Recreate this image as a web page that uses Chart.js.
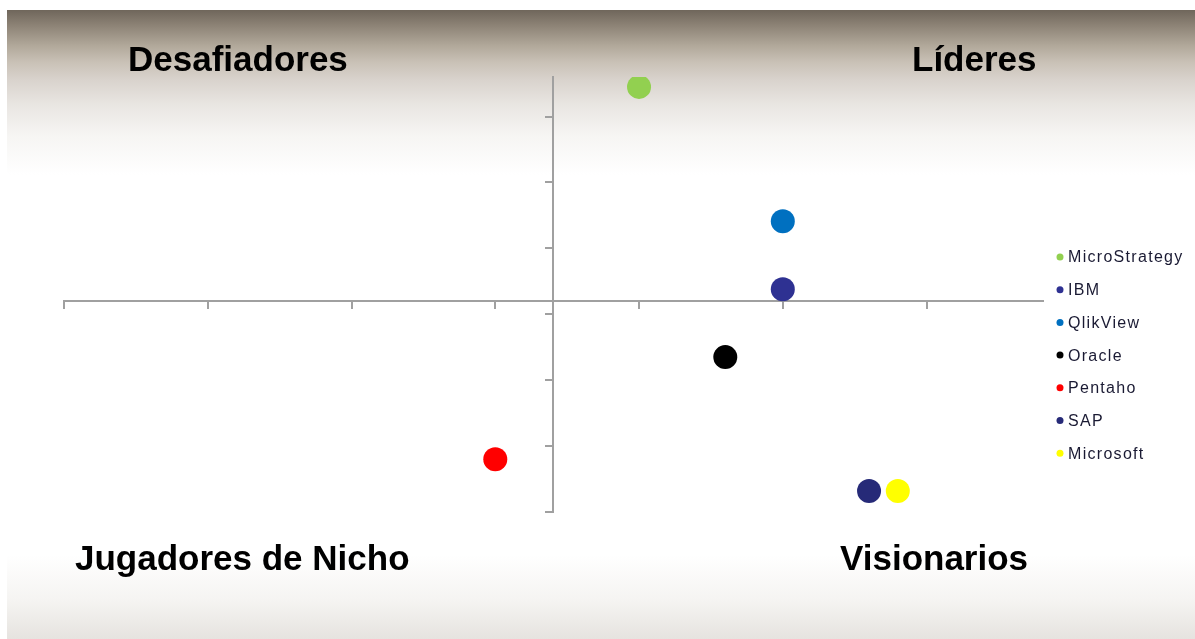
<!DOCTYPE html>
<html lang="es">
<head>
<meta charset="utf-8">
<title>Cuadrante BI</title>
<script src="https://cdn.jsdelivr.net/npm/chart.js@4.4.1/dist/chart.umd.min.js"></script>
<style>
    html, body { margin: 0; padding: 0; background: #fff; }
    #wrap { width: 1195px; height: 639px; position: relative; }
</style>
</head>
<body>
<div id="wrap"><canvas id="canvas"></canvas></div>
<script>
const companies = ["MicroStrategy", "IBM", "QlikView", "Oracle", "Pentaho", "SAP", "Microsoft"];
const visionValues = [4.0, 5.0, 5.0, 4.6, 3.0, 5.6, 5.8];          // eje x
const abilityValues = [6.45, 3.38, 4.41, 2.35, 0.8, 0.32, 0.32];   // eje y
const companyColors = ["#92d050", "#2e3192", "#0070c0", "#000000", "#ff0000", "#262a78", "#ffff00"];
const quadrantLabels = ["Desafiadores", "Líderes", "Jugadores de Nicho", "Visionarios"];

const xCross = 3.2;   // el eje x corta el eje y aquí
const yCross = 3.4;   // el eje y corta el eje x aquí

const AXIS_GRAY = "#a0a0a0";

// fondo degradado tipo diapositiva
const slideBackground = {
    id: "slideBackground",
    beforeDraw(chart) {
        const {ctx, width, height} = chart;
        ctx.save();
        ctx.fillStyle = "#ffffff";
        ctx.fillRect(0, 0, width, height);
        const g = ctx.createLinearGradient(0, 10, 0, height);
        const h = height - 10;
        const at = (y) => (y - 10) / h;
        g.addColorStop(0, "#6f665b");
        g.addColorStop(at(25), "#8c8275");
        g.addColorStop(at(45), "#b0a799");
        g.addColorStop(at(62), "#c9c1b6");
        g.addColorStop(at(80), "#d9d3cd");
        g.addColorStop(at(105), "#e9e6e2");
        g.addColorStop(at(135), "#f6f5f3");
        g.addColorStop(at(175), "#ffffff");
        g.addColorStop(at(555), "#ffffff");
        g.addColorStop(at(600), "#f5f4f2");
        g.addColorStop(1, "#e6e3df");
        ctx.fillStyle = g;
        ctx.fillRect(7, 10, width - 7, height - 10);
        ctx.restore();
    },
};

// títulos de cuadrante y leyenda
const quadrantText = {
    id: "quadrantText",
    afterDraw(chart) {
        const {ctx} = chart;
        ctx.save();
        ctx.fillStyle = "#000";
        ctx.font = "bold 35px 'Liberation Sans', Arial, sans-serif";
        ctx.textAlign = "left";
        ctx.textBaseline = "alphabetic";
        ctx.fillText(quadrantLabels[0], 128, 71);
        ctx.fillText(quadrantLabels[1], 912, 71);
        ctx.fillText(quadrantLabels[2], 75, 570);
        ctx.fillText(quadrantLabels[3], 840, 570);

        ctx.font = "16px 'Liberation Sans', Arial, sans-serif";
        ctx.letterSpacing = "1.3px";
        ctx.textBaseline = "middle";
        chart.data.datasets.forEach((ds, i) => {
            const y = 257 + i * 32.7;
            ctx.fillStyle = ds.backgroundColor;
            ctx.beginPath();
            ctx.arc(1060, y, 3.5, 0, Math.PI * 2);
            ctx.fill();
            ctx.fillStyle = "#1a1a33";
            ctx.fillText(ds.label, 1068, y + 1);
        });
        ctx.restore();
    },
};

const datasets = companies.map((name, i) => ({
    label: name,
    data: [{x: visionValues[i], y: abilityValues[i]}],
    backgroundColor: companyColors[i],
    borderWidth: 0,
    pointRadius: 12,
    pointHoverRadius: 12,
    clip: 0,
}));

new Chart(document.getElementById("canvas"), {
    type: "scatter",
    data: {datasets},
    options: {
        responsive: true,
        maintainAspectRatio: false,
        animation: false,
        plugins: {
            legend: {display: false},
            tooltip: {enabled: false},
        },
        layout: {
            padding: {left: 64, right: 152, top: 77, bottom: 127},
        },
        scales: {
            x: {
                type: "linear",
                min: 0,
                max: 6.81,
                position: {y: xCross},
                ticks: {display: false, stepSize: 1, includeBounds: false},
                grid: {drawOnChartArea: false, drawTicks: true, tickLength: 7, color: AXIS_GRAY, lineWidth: 2},
                border: {display: true, color: AXIS_GRAY, width: 2},
            },
            y: {
                type: "linear",
                min: 0,
                max: 6.6,
                position: {x: yCross},
                ticks: {display: false, stepSize: 1, includeBounds: false},
                grid: {drawOnChartArea: false, drawTicks: true, tickLength: 7, color: AXIS_GRAY, lineWidth: 2},
                border: {display: true, color: AXIS_GRAY, width: 2},
            },
        },
    },
    plugins: [slideBackground, quadrantText],
});
</script>
</body>
</html>
